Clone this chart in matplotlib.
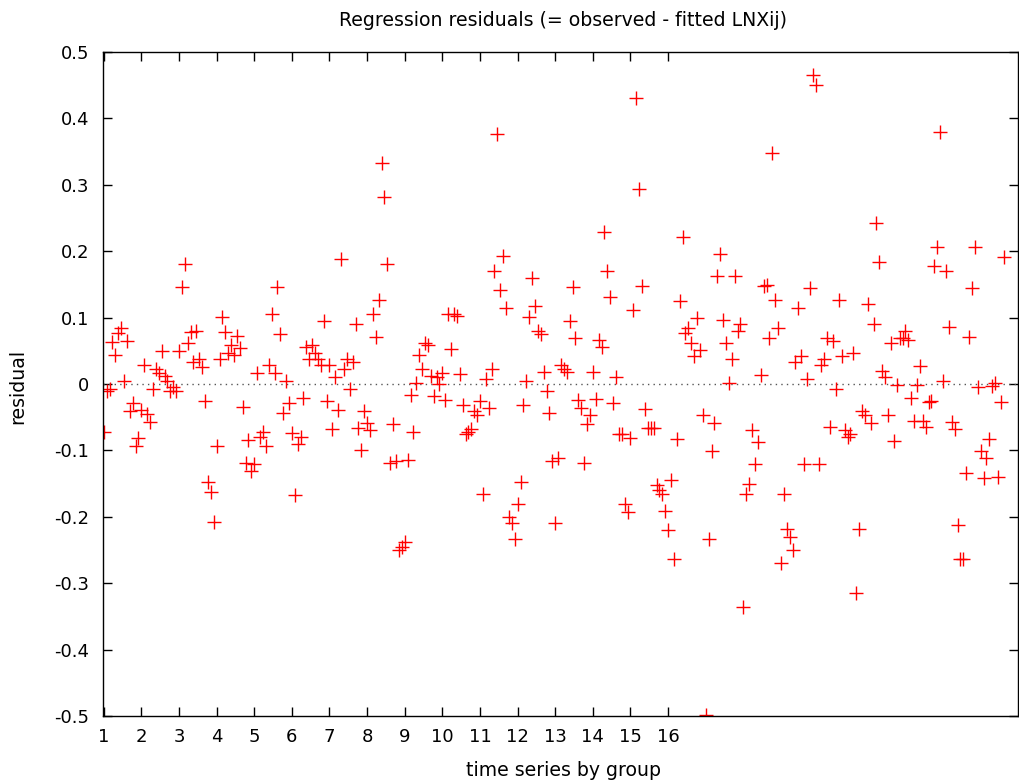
import numpy as np
import matplotlib
matplotlib.use("Agg")
import matplotlib.pyplot as plt

# 24 groups x 13 observations, x = group + t/13
n_groups = 24
n_obs = 13

residual = [
    -0.072, -0.011, -0.007, 0.064, 0.043, 0.077, 0.084, 0.005, 0.065, -0.040, -0.029, -0.093, -0.082,
    -0.039, 0.028, -0.045, -0.057, -0.008, 0.023, 0.017, 0.049, 0.012, 0.005, -0.011, -0.005, -0.011,
    0.049, 0.146, 0.180, 0.061, 0.078, 0.033, 0.080, 0.038, 0.025, -0.025, -0.148, -0.163, -0.208,
    -0.093, 0.037, 0.101, 0.079, 0.046, 0.059, 0.044, 0.072, 0.054, -0.034, -0.119, -0.085, -0.131,
    -0.121, 0.017, -0.080, -0.073, -0.093, 0.028, 0.106, 0.017, 0.146, 0.075, -0.044, 0.005, -0.029,
    -0.074, -0.167, -0.091, -0.080, -0.021, 0.056, 0.038, 0.059, 0.046, 0.038, 0.028, 0.095, -0.025,
    0.028, -0.068, 0.010, -0.039, 0.188, 0.022, 0.038, -0.008, 0.033, 0.090, -0.067, -0.099, -0.040,
    -0.058, -0.069, 0.106, 0.071, 0.126, 0.333, 0.282, 0.180, -0.119, -0.060, -0.116, -0.250, -0.245,
    -0.238, -0.114, -0.016, -0.072, 0.002, 0.044, 0.022, 0.061, 0.059, 0.012, -0.018, 0.010, 0.000,
    0.017, -0.024, 0.105, 0.052, 0.106, 0.102, 0.015, -0.031, -0.075, -0.072, -0.068, -0.040, -0.046,
    -0.025, -0.166, 0.008, -0.036, 0.023, 0.170, 0.376, 0.142, 0.193, 0.114, -0.201, -0.210, -0.233,
    -0.180, -0.148, -0.031, 0.005, 0.101, 0.160, 0.118, 0.080, 0.075, 0.018, -0.011, -0.044, -0.116,
    -0.209, -0.112, 0.028, 0.023, 0.018, 0.095, 0.146, 0.069, -0.024, -0.036, -0.119, -0.060, -0.047,
    0.018, -0.023, 0.067, 0.056, 0.229, 0.170, 0.131, -0.029, 0.010, -0.076, -0.076, -0.180, -0.193,
    -0.081, 0.111, 0.430, 0.294, 0.148, -0.037, -0.067, -0.067, -0.067, -0.152, -0.160, -0.165, -0.191,
    -0.220, -0.145, -0.263, -0.083, 0.125, 0.222, 0.077, 0.084, 0.061, 0.042, 0.099, 0.051, -0.047,
    -0.498, -0.233, -0.101, -0.059, 0.163, 0.196, 0.097, 0.061, 0.002, 0.038, 0.162, 0.080, 0.090,
    -0.336, -0.166, -0.150, -0.069, -0.121, -0.088, 0.014, 0.147, 0.149, 0.069, 0.348, 0.126, 0.084,
    -0.270, -0.166, -0.219, -0.230, -0.250, 0.033, 0.115, 0.042, -0.121, 0.008, 0.144, 0.466, 0.451,
    -0.121, 0.028, 0.038, 0.070, -0.065, 0.065, -0.007, 0.127, 0.042, -0.069, -0.080, -0.076, 0.046,
    -0.315, -0.219, -0.040, -0.047, 0.120, -0.059, 0.090, 0.242, 0.184, 0.020, 0.010, -0.047, 0.061,
    -0.086, -0.001, 0.069, 0.069, 0.080, 0.067, -0.021, -0.056, -0.001, 0.027, -0.056, -0.065, -0.027,
    -0.026, 0.178, 0.206, 0.380, 0.005, 0.170, 0.086, -0.057, -0.068, -0.212, -0.263, -0.264, -0.134,
    0.071, 0.144, 0.207, -0.005, -0.101, -0.142, -0.111, -0.083, -0.003, 0.002, -0.140, -0.027, 0.191,
]

xtick_vals = list(range(1, 17))
ytick_vals = [-0.5, -0.4, -0.3, -0.2, -0.1, 0, 0.1, 0.2, 0.3, 0.4, 0.5]
ytick_labels = ["-0.5", "-0.4", "-0.3", "-0.2", "-0.1", "0", "0.1", "0.2", "0.3", "0.4", "0.5"]

group = np.repeat(np.arange(1, n_groups + 1), n_obs)
t = np.tile(np.arange(n_obs), n_groups)
x = group + t / n_obs

plt.rcParams["font.family"] = "DejaVu Sans"

fig = plt.figure(figsize=(10.19, 7.84), dpi=100)
ax = fig.add_axes([103 / 1019, 68 / 784, 915 / 1019, 664 / 784])

ax.axhline(0, color="#555555", linestyle=(0, (1, 3)), linewidth=1)
ax.plot(x, residual, "+", color="red", markersize=10, markeredgewidth=1.0)

ax.set_xlim(0.98, 25.3)
ax.set_ylim(-0.5, 0.5)
ax.set_xticks(xtick_vals)
ax.set_yticks(ytick_vals)
ax.set_yticklabels(ytick_labels)
ax.tick_params(direction="in", length=6.5, width=1, top=True, right=True, labelsize=13)
ax.tick_params(axis="x", pad=9)
ax.tick_params(axis="y", pad=10)
for s in ax.spines.values():
    s.set_linewidth(1.0)

fig.text(563 / 1019, 1 - 20 / 784, "Regression residuals (= observed - fitted LNXij)",
         ha="center", va="center", fontsize=13.6)
fig.text(563 / 1019, 1 - 771 / 784, "time series by group", ha="center", va="center", fontsize=13.6)
fig.text(18 / 1019, 1 - 386 / 784, "residual", ha="center", va="center", rotation=90, fontsize=13.6)

fig.savefig("out.png", dpi=100)
